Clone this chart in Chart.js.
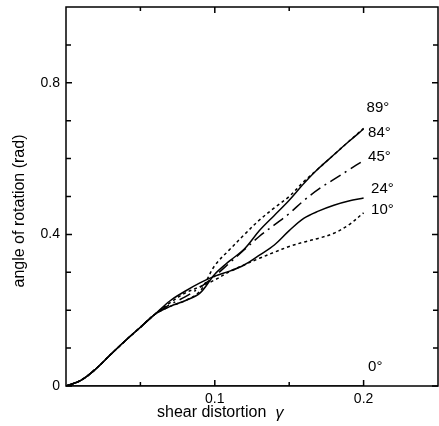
<!doctype html>
<html>

<head>
  <script src="https://cdn.jsdelivr.net/npm/chart.js@4/dist/chart.umd.min.js"></script>
  <style>
    body { margin: 0; background: #fff; }
    #wrap { width: 439px; height: 426px; }
  </style>
</head>

<body>
  <div id="wrap"><canvas id="canvas"></canvas></div>
  <script>
    // shear distortion gamma
    const gamma = [0, 0.01, 0.02, 0.03, 0.04, 0.05, 0.06, 0.07, 0.08, 0.09, 0.1,
      0.11, 0.12, 0.13, 0.14, 0.15, 0.16, 0.17, 0.18, 0.19, 0.2];
    // angle of rotation (rad), one list per orientation
    const rot89 = [0, 0.015, 0.045, 0.083, 0.12, 0.155, 0.19, 0.21, 0.225, 0.25, 0.318,
      0.36, 0.4, 0.438, 0.47, 0.5, 0.54, 0.575, 0.61, 0.645, 0.68];
    const rot84 = [0, 0.015, 0.045, 0.083, 0.12, 0.155, 0.19, 0.21, 0.225, 0.245, 0.295,
      0.33, 0.362, 0.41, 0.45, 0.49, 0.535, 0.575, 0.61, 0.645, 0.678];
    const rot45 = [0, 0.015, 0.045, 0.083, 0.12, 0.155, 0.19, 0.215, 0.235, 0.26, 0.29,
      0.325, 0.36, 0.395, 0.425, 0.455, 0.49, 0.52, 0.545, 0.57, 0.595];
    const rot24 = [0, 0.015, 0.045, 0.083, 0.12, 0.155, 0.19, 0.225, 0.25, 0.272, 0.29,
      0.303, 0.32, 0.345, 0.372, 0.41, 0.443, 0.462, 0.477, 0.488, 0.496];
    const rot10 = [0, 0.015, 0.045, 0.083, 0.12, 0.155, 0.19, 0.22, 0.245, 0.262, 0.28,
      0.302, 0.32, 0.337, 0.353, 0.368, 0.38, 0.39, 0.403, 0.425, 0.457];
    const rot0 = [0, 0, 0, 0, 0, 0, 0, 0, 0, 0, 0, 0, 0, 0, 0, 0, 0, 0, 0, 0, 0];

    const curveNames = ['89°', '84°', '45°', '24°', '10°', '0°'];
    // where each curve's name sits (data units)
    const nameX = [0.202, 0.203, 0.203, 0.205, 0.205, 0.203];
    const nameY = [0.734, 0.668, 0.605, 0.52, 0.465, 0.05];

    const xMajor = [0.1, 0.2];
    const xMinor = [0.05, 0.15];
    const yMajor = [0, 0.4, 0.8];
    const yMinor = [0.1, 0.2, 0.3, 0.5, 0.6, 0.7, 0.9];

    const FONT = '"Liberation Sans", Arial, sans-serif';

    const pts = (ys) => gamma.map((g, i) => ({ x: g, y: ys[i] }));
    const line = (ys, dash) => ({
      data: pts(ys),
      borderColor: '#000',
      borderWidth: 1.5,
      borderDash: dash,
      pointRadius: 0,
      tension: 0.35,
      fill: false
    });

    const noPad = (s) => {
      s.paddingTop = 0; s.paddingBottom = 0;
      s.paddingLeft = 0; s.paddingRight = 0;
    };

    const frame = {
      id: 'frame',
      afterDraw(chart) {
        const { ctx, chartArea: a, scales: { x, y } } = chart;
        ctx.save();
        ctx.strokeStyle = '#000';
        ctx.lineWidth = 1.5;
        ctx.strokeRect(a.left, a.top, a.right - a.left, a.bottom - a.top);
        ctx.beginPath();
        const xt = (v, len) => {
          const p = x.getPixelForValue(v);
          ctx.moveTo(p, a.bottom); ctx.lineTo(p, a.bottom - len);
          ctx.moveTo(p, a.top); ctx.lineTo(p, a.top + len);
        };
        const yt = (v, len) => {
          const p = y.getPixelForValue(v);
          ctx.moveTo(a.left, p); ctx.lineTo(a.left + len, p);
          ctx.moveTo(a.right, p); ctx.lineTo(a.right - len, p);
        };
        xMajor.forEach(v => xt(v, 6));
        xMinor.forEach(v => xt(v, 4));
        yMajor.forEach(v => yt(v, 6));
        yMinor.forEach(v => yt(v, 5));
        ctx.stroke();

        ctx.fillStyle = '#000';
        ctx.font = '15px ' + FONT;
        ctx.textAlign = 'left';
        ctx.textBaseline = 'middle';
        curveNames.forEach((n, i) => {
          ctx.fillText(n, x.getPixelForValue(nameX[i]), y.getPixelForValue(nameY[i]));
        });

        // axis titles
        ctx.font = '16px ' + FONT;
        const part = 'shear distortion';
        ctx.fillText(part, 157, 413);
        const w = ctx.measureText(part).width;
        ctx.font = 'italic 16px ' + FONT;
        ctx.fillText('γ', 157 + w + 9, 414);

        ctx.font = '16px ' + FONT;
        ctx.translate(20, 211);
        ctx.rotate(-Math.PI / 2);
        ctx.textAlign = 'center';
        ctx.fillText('angle of rotation (rad)', 0, 0);
        ctx.restore();
      }
    };

    new Chart(document.getElementById('canvas'), {
      type: 'line',
      data: {
        datasets: [
          line(rot89, [3, 3]),
          line(rot84, []),
          line(rot45, [12, 5, 2, 5]),
          line(rot24, []),
          line(rot10, [3, 3]),
          line(rot0, [])
        ]
      },
      options: {
        responsive: true,
        maintainAspectRatio: false,
        animation: false,
        layout: { padding: { top: 7, right: 1, left: 0, bottom: 0 } },
        plugins: { legend: { display: false }, tooltip: { enabled: false } },
        scales: {
          x: {
            type: 'linear',
            min: 0,
            max: 0.25,
            grid: { display: false, drawTicks: false },
            border: { display: false },
            afterBuildTicks: (s) => { s.ticks = xMajor.map(v => ({ value: v })); },
            afterFit: (s) => { s.height = 40; noPad(s); },
            ticks: {
              color: '#000',
              padding: 5,
              maxRotation: 0,
              font: { family: FONT, size: 14 },
              callback: (v) => String(v)
            }
          },
          y: {
            min: 0,
            max: 1,
            grid: { display: false, drawTicks: false },
            border: { display: false },
            afterBuildTicks: (s) => { s.ticks = yMajor.map(v => ({ value: v })); },
            afterFit: (s) => { s.width = 66; noPad(s); },
            ticks: {
              color: '#000',
              padding: 6,
              font: { family: FONT, size: 14 },
              callback: (v) => String(v)
            }
          }
        }
      },
      plugins: [frame]
    });
  </script>
</body>

</html>
